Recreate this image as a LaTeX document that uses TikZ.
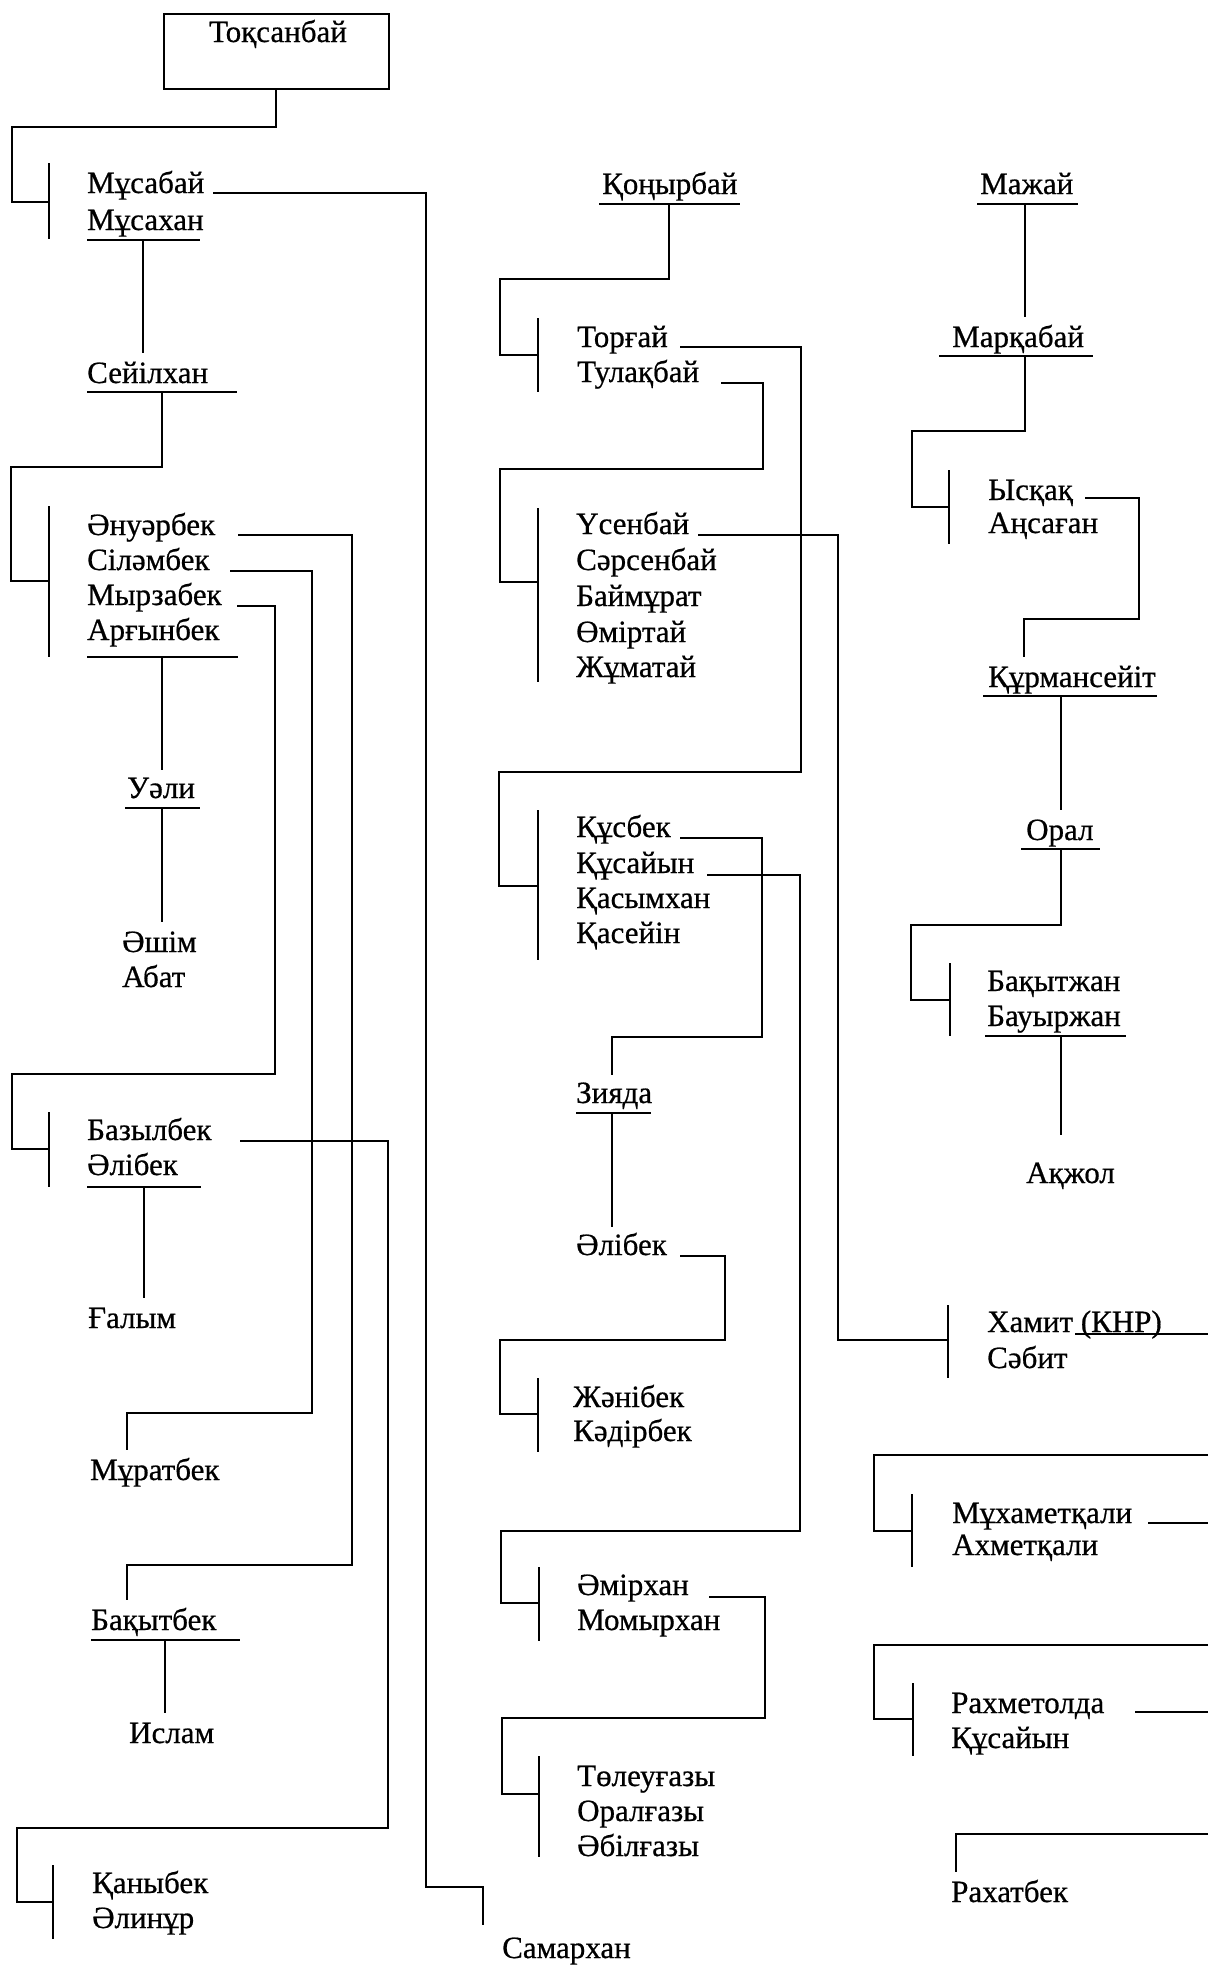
\documentclass[tikz,border=0pt]{standalone}
\usepackage{fontspec}
\setmainfont[FakeBold=0.6]{Liberation Serif}
\begin{document}
\begin{tikzpicture}[x=1pt,y=-1pt,
  nm/.style={anchor=base west, inner sep=0pt, font=\fontsize{31}{37}\selectfont},
  conn/.style={line width=1.9pt},
  brk/.style={line width=1.9pt}]
\useasboundingbox (0,0) rectangle (1208,1966);
\fill[white] (0,0) rectangle (1208,1966);

% ---------- left column ----------
\node[draw, line width=1.9pt, minimum width=225pt, minimum height=75pt, anchor=north west, inner sep=0pt] (box) at (163,13) {};
\node[anchor=base, inner sep=0pt, font=\fontsize{31}{37}\selectfont] (toksanbai) at (278,42) {Тоқсанбай};

\node[nm] (musabai) at (87,193) {Мұсабай};
\node[nm] (musakhan) at (87,230) {Мұсахан};
\node[nm] (seyilkhan) at (87,383) {Сейілхан};
\node[nm] (anuarbek) at (87,535) {Әнуәрбек};
\node[nm] (silambek) at (87,570) {Сіләмбек};
\node[nm] (myrzabek) at (87,605) {Мырзабек};
\node[nm] (argynbek) at (87,640) {Арғынбек};
\node[nm] (uali) at (127,798) {Уәли};
\node[nm] (ashim) at (122,952) {Әшім};
\node[nm] (abat) at (122,987) {Абат};
\node[nm] (bazylbek) at (87,1140) {Базылбек};
\node[nm] (alibekA) at (87,1175) {Әлібек};
\node[nm] (galym) at (88,1328) {Ғалым};
\node[nm] (muratbek) at (90,1480) {Мұратбек};
\node[nm] (bakytbek) at (91,1630) {Бақытбек};
\node[nm] (islam) at (129,1743) {Ислам};
\node[nm] (kanybek) at (92,1893) {Қаныбек};
\node[nm] (alinur) at (92,1928) {Әлинұр};
\node[nm] (samarkhan) at (502,1958) {Самархан};

\draw[conn] (box.south -| 276,0) -- (276,127) -- (12,127) -- (12,202) -- (49,202);
\draw[brk] (49,163) -- (49,239);
\draw[conn] (213,193) -- (426,193) -- (426,1887) -- (483,1887) -- (483,1925);
\draw[conn] (87,240) -- (200,240);
\draw[conn] (143,240) -- (143,353);
\draw[conn] (87,392) -- (237,392);
\draw[conn] (162,392) -- (162,467) -- (11,467) -- (11,581) -- (49,581);
\draw[brk] (49,506) -- (49,657);
\draw[conn] (238,535) -- (352,535) -- (352,1565) -- (127,1565) -- (127,1600);
\draw[conn] (230,571) -- (312,571) -- (312,1413) -- (127,1413) -- (127,1450);
\draw[conn] (237,606) -- (275,606) -- (275,1074) -- (12,1074) -- (12,1149) -- (49,1149);
\draw[conn] (87,657) -- (238,657);
\draw[conn] (162,657) -- (162,770);
\draw[conn] (125,808) -- (200,808);
\draw[conn] (162,808) -- (162,922);
\draw[brk] (49,1112) -- (49,1187);
\draw[conn] (240,1141) -- (388,1141) -- (388,1828) -- (17,1828) -- (17,1902) -- (53,1902);
\draw[conn] (87,1187) -- (201,1187);
\draw[conn] (144,1187) -- (144,1298);
\draw[conn] (91,1640) -- (240,1640);
\draw[conn] (165,1640) -- (165,1713);
\draw[brk] (53,1865) -- (53,1939);

% ---------- middle column ----------
\node[nm] (konyrbai) at (602,194) {Қоңырбай};
\node[nm] (torgai) at (577,347) {Торғай};
\node[nm] (tulakbai) at (577,382) {Тулақбай};
\node[nm] (usenbai) at (576,534) {Үсенбай};
\node[nm] (sarsenbai) at (576,570) {Сәрсенбай};
\node[nm] (baimurat) at (576,606) {Баймұрат};
\node[nm] (omirtai) at (576,642) {Өміртай};
\node[nm] (zhumatai) at (576,677) {Жұматай};
\node[nm] (kusbek) at (576,837) {Құсбек};
\node[nm] (kusaiyn) at (576,873) {Құсайын};
\node[nm] (kasymkhan) at (576,908) {Қасымхан};
\node[nm] (kaseyin) at (576,943) {Қасейін};
\node[nm] (ziyada) at (576,1103) {Зияда};
\node[nm] (alibekB) at (576,1255) {Әлібек};
\node[nm] (zhanibek) at (573,1407) {Жәнібек};
\node[nm] (kadirbek) at (573,1441) {Кәдірбек};
\node[nm] (amirkhan) at (577,1595) {Әмірхан};
\node[nm] (momyrkhan) at (577,1630) {Момырхан};
\node[nm] (toleugazy) at (577,1786) {Төлеуғазы};
\node[nm] (oralgazy) at (577,1821) {Оралғазы};
\node[nm] (abilgazy) at (577,1856) {Әбілғазы};

\draw[conn] (599,204) -- (740,204);
\draw[conn] (669,204) -- (669,279) -- (500,279) -- (500,355) -- (538,355);
\draw[brk] (538,318) -- (538,392);
\draw[conn] (680,347) -- (801,347) -- (801,772) -- (499,772) -- (499,886) -- (538,886);
\draw[conn] (721,383) -- (763,383) -- (763,469) -- (500,469) -- (500,582) -- (538,582);
\draw[brk] (538,508) -- (538,682);
\draw[conn] (698,535) -- (838,535) -- (838,1340) -- (948,1340);
\draw[brk] (538,810) -- (538,960);
\draw[conn] (680,838) -- (762,838) -- (762,1037) -- (612,1037) -- (612,1075);
\draw[conn] (707,875) -- (800,875) -- (800,1531) -- (501,1531) -- (501,1603) -- (539,1603);
\draw[conn] (576,1113) -- (651,1113);
\draw[conn] (612,1113) -- (612,1227);
\draw[conn] (680,1256) -- (725,1256) -- (725,1340) -- (500,1340) -- (500,1414) -- (538,1414);
\draw[brk] (538,1378) -- (538,1452);
\draw[brk] (539,1567) -- (539,1641);
\draw[conn] (709,1597) -- (765,1597) -- (765,1718) -- (502,1718) -- (502,1794) -- (539,1794);
\draw[brk] (539,1756) -- (539,1857);

% ---------- right column ----------
\node[nm] (mazhai) at (980,194) {Мажай};
\node[nm] (markabai) at (952,347) {Марқабай};
\node[nm] (yskak) at (988,500) {Ысқақ};
\node[nm] (ansagan) at (988,533) {Аңсаған};
\node[nm] (kurmanseyit) at (988,687) {Құрмансейіт};
\node[nm] (oral) at (1026,840) {Орал};
\node[nm] (bakytzhan) at (987,991) {Бақытжан};
\node[nm] (bauyrzhan) at (987,1026) {Бауыржан};
\node[nm] (akzhol) at (1026,1183) {Ақжол};
\node[nm] (khamit) at (987,1332) {Хамит (КНР)};
\node[nm] (sabit) at (987,1368) {Сәбит};
\node[nm] (mukhametkali) at (952,1523) {Мұхаметқали};
\node[nm] (akhmetkali) at (952,1555) {Ахметқали};
\node[nm] (rakhmetolda) at (951,1713) {Рахметолда};
\node[nm] (kusaiynB) at (951,1748) {Құсайын};
\node[nm] (rakhatbek) at (951,1902) {Рахатбек};

\draw[conn] (977,204) -- (1078,204);
\draw[conn] (1025,204) -- (1025,317);
\draw[conn] (939,356) -- (1093,356);
\draw[conn] (1025,356) -- (1025,431) -- (912,431) -- (912,507) -- (949,507);
\draw[brk] (949,470) -- (949,544);
\draw[conn] (1085,498) -- (1139,498) -- (1139,619) -- (1024,619) -- (1024,657);
\draw[conn] (983,696) -- (1157,696);
\draw[conn] (1061,696) -- (1061,810);
\draw[conn] (1021,849) -- (1100,849);
\draw[conn] (1061,849) -- (1061,925) -- (911,925) -- (911,1000) -- (950,1000);
\draw[brk] (950,963) -- (950,1036);
\draw[conn] (985,1036) -- (1126,1036);
\draw[conn] (1061,1036) -- (1061,1135);
\draw[brk] (948,1305) -- (948,1378);
\draw[conn] (1075,1334) -- (1208,1334);
\draw[conn] (1208,1455) -- (874,1455) -- (874,1531) -- (912,1531);
\draw[brk] (912,1494) -- (912,1567);
\draw[conn] (1148,1523) -- (1208,1523);
\draw[conn] (1208,1645) -- (874,1645) -- (874,1719) -- (913,1719);
\draw[brk] (913,1683) -- (913,1756);
\draw[conn] (1135,1712) -- (1208,1712);
\draw[conn] (1208,1834) -- (956,1834) -- (956,1872);
\end{tikzpicture}
\end{document}
